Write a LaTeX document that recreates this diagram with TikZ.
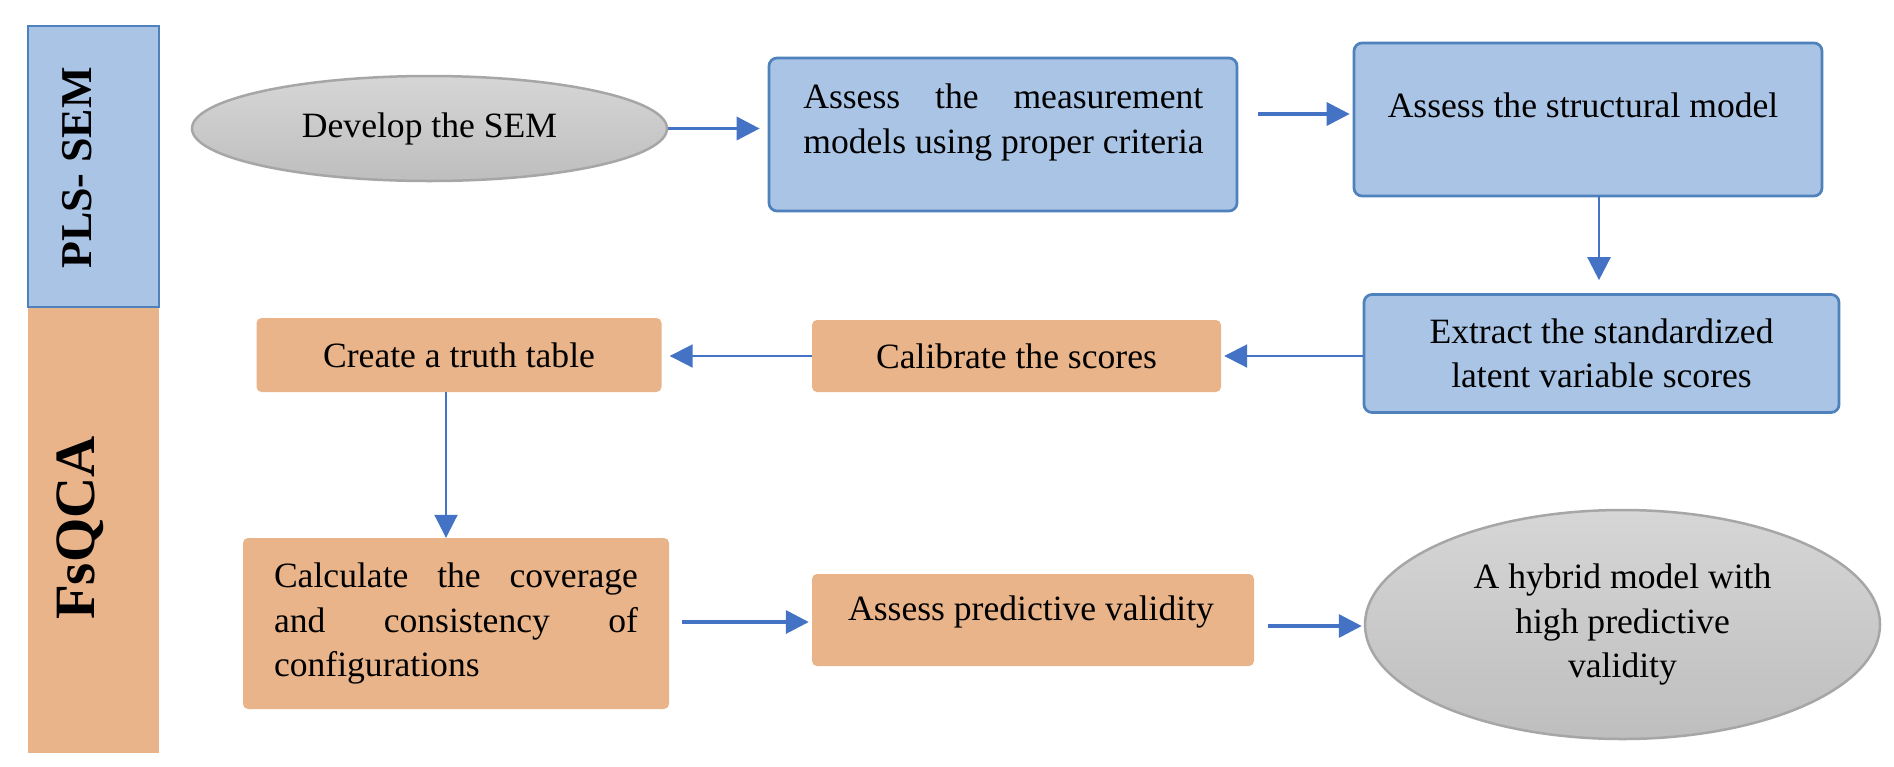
\documentclass[tikz,border=0pt]{standalone}
\usepackage{fontspec}
\setmainfont{Liberation Serif}
\usetikzlibrary{arrows.meta,shapes.geometric}
\definecolor{bfill}{RGB}{169,196,229}
\definecolor{bline}{RGB}{79,129,189}
\definecolor{ofill}{RGB}{233,180,138}
\definecolor{arrcol}{RGB}{68,114,196}
\definecolor{gline}{RGB}{166,166,166}
\definecolor{gtop}{RGB}{214,214,214}
\definecolor{gbot}{RGB}{190,190,190}
\begin{document}
\begin{tikzpicture}[x=1pt,y=-1pt,
  bluebox/.style={draw=bline,line width=2.7pt,fill=bfill,rounded corners=8pt,inner sep=0pt},
  orbox/.style={fill=ofill,rounded corners=5pt,inner sep=0pt},
  oval/.style={ellipse,draw=gline,line width=2.5pt,top color=gtop,bottom color=gbot,inner sep=0pt},
  txt/.style={font=\fontsize{35.6}{44.5}\selectfont,inner sep=0pt,align=center},
  fat/.style={draw=arrcol,line width=3.5pt,-{Triangle[length=23pt,width=23pt]}},
  slim/.style={draw=arrcol,line width=2pt,-{Triangle[length=23pt,width=23pt]}},
]
\fill[white] (0,0) rectangle (1894,766);
\path[use as bounding box] (0,0) rectangle (1894,766);

% side bars
\node[fill=ofill,inner sep=0pt,minimum width=131pt,minimum height=446pt] (fsbar) at (93.5,530) {};
\node[draw=bline,line width=2.7pt,fill=bfill,inner sep=0pt,minimum width=131pt,minimum height=281pt] (plsbar) at (93.5,166.5) {};
\node[font=\fontsize{44}{44}\selectfont\bfseries,rotate=90,anchor=base,inner sep=0pt] (plslab) at (91,168) {PLS- SEM};
\node[font=\fontsize{57}{57}\selectfont\bfseries,rotate=90,anchor=base,inner sep=0pt] (fslab) at (94,528) {FsQCA};

% PLS-SEM row
\node[oval,txt,minimum width=475pt,minimum height=105pt] (e1) at (429.5,128.5) {Develop the SEM};
\node[bluebox,minimum width=468pt,minimum height=153pt] (b2) at (1003,134.5) {};
\node[txt,align=left] (b2t) at (1003.5,122.5) {\makebox[400pt][s]{Assess the measurement}\\models using proper criteria};
\node[bluebox,minimum width=468pt,minimum height=153pt] (b3) at (1588,119.5) {};
\node[txt] (b3t) at (1583,105) {Assess the structural model};
\node[bluebox,txt,minimum width=475pt,minimum height=118pt] (b4) at (1601.5,353.5) {Extract the standardized\\latent variable scores};

% FsQCA rows
\node[orbox,txt,minimum width=409pt,minimum height=72pt] (b5) at (1016.5,356) {Calibrate the scores};
\node[orbox,txt,minimum width=405pt,minimum height=74pt] (b6) at (459,355) {Create a truth table};
\node[orbox,txt,align=left,minimum width=426pt,minimum height=171pt] (b7) at (456,623.5)
  {\makebox[364pt][s]{Calculate the coverage}\\\makebox[364pt][s]{and consistency of}\\configurations};
\node[orbox,minimum width=442pt,minimum height=92pt] (b8) at (1033,620) {};
\node[txt] (b8t) at (1031,612) {Assess predictive validity};
\node[oval,txt,minimum width=515pt,minimum height=229pt] (e2) at (1622.5,624.5) {A hybrid model with\\high predictive\\validity};

% connectors
\coordinate (a2s) at (1258,114);
\coordinate (a3s) at (1599,196);
\coordinate (a6s) at (446,392);
\coordinate (a7s) at (682,622);
\coordinate (a8s) at (1268,626);
\draw[fat,shorten >=8pt] (e1.east) -- (e1.east -| b2.west);
\draw[fat,shorten >=3pt] (a2s) -- (a2s -| b3.west);
\draw[slim,line width=2.6pt,shorten >=13pt] (a3s) -- (a3s |- b4.north);
\draw[slim,shorten >=3pt] (b5.east -| b4.west) -- (b5.east);
\draw[slim,shorten >=8pt] (b5.west) -- (b5.west -| b6.east);
\draw[slim] (a6s) -- (a6s |- b7.north);
\draw[fat,shorten >=3pt] (a7s) -- (a7s -| b8.west);
\draw[fat,shorten >=2pt] (a8s) -- (a8s -| e2.west);
\end{tikzpicture}
\end{document}
